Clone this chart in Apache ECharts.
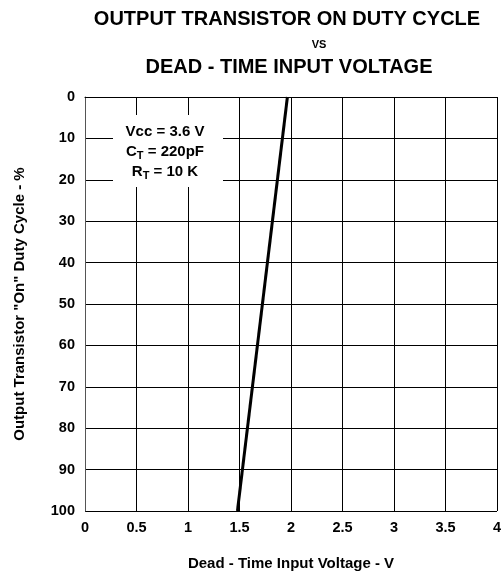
<!DOCTYPE html>
<html>
  <head>
    <meta charset="utf-8" />
    <title>Duty Cycle vs Dead-Time</title>
    <script src="https://cdn.jsdelivr.net/npm/echarts@6.0.0/dist/echarts.min.js"></script>
    <style>
      body { margin: 0; background: #fff; }
      #chart { width: 501px; height: 577px; }
    </style>
  </head>
<body>
  <div id="chart"></div>
  <script type="text/javascript">
// curve: dead-time voltage (V) vs duty cycle (%)
var voltage = [1.48, 1.965];
var dutyCycle = [100, 0];

var xTicks = [0, 0.5, 1, 1.5, 2, 2.5, 3, 3.5, 4];
var yTicks = [0, 10, 20, 30, 40, 50, 60, 70, 80, 90, 100];

var font = 'Liberation Sans, Arial, sans-serif';

var chart = echarts.init(document.getElementById('chart'));
var option = {
  animation: false,
  title: [
    { text: 'OUTPUT TRANSISTOR ON DUTY CYCLE', left: 282, textAlign: 'center', top: 4,
      textStyle: { fontFamily: font, fontWeight: 'bold', fontSize: 20, color: '#000' } },
    { text: 'VS', left: 314, textAlign: 'center', top: 34,
      textStyle: { fontFamily: font, fontWeight: 'bold', fontSize: 11, color: '#000' } },
    { text: 'DEAD - TIME INPUT VOLTAGE', left: 284, textAlign: 'center', top: 52,
      textStyle: { fontFamily: font, fontWeight: 'bold', fontSize: 20, color: '#000' } }
  ],
  grid: { left: 85, right: 4, top: 97, bottom: 66, outerBoundsMode: 'none' },
  xAxis: {
    type: 'value', min: 0, max: 4, interval: 0.5,
    name: 'Dead - Time Input Voltage - V', nameLocation: 'middle', nameGap: 45,
    nameTextStyle: { fontFamily: font, fontWeight: 'bold', fontSize: 15, color: '#000' },
    axisLine: { show: true, lineStyle: { color: '#000', width: 1 } },
    axisTick: { show: false },
    axisLabel: { fontFamily: font, fontWeight: 'bold', fontSize: 14.5, color: '#000', margin: 9,
      formatter: function (v) { return xTicks.indexOf(v) >= 0 ? String(v) : ''; } },
    splitLine: { show: true, lineStyle: { color: '#000', width: 1 } }
  },
  yAxis: {
    type: 'value', min: 0, max: 100, interval: 10, inverse: true,
    name: 'Output Transistor "On" Duty Cycle - %', nameLocation: 'middle', nameGap: 58,
    nameTextStyle: { fontFamily: font, fontWeight: 'bold', fontSize: 15, color: '#000' },
    axisLine: { show: true, lineStyle: { color: '#555', width: 1 } },
    axisTick: { show: false },
    axisLabel: { fontFamily: font, fontWeight: 'bold', fontSize: 14.5, color: '#000', margin: 10,
      formatter: function (v) { return yTicks.indexOf(v) >= 0 ? String(v) : ''; } },
    splitLine: { show: true, lineStyle: { color: '#000', width: 1 } }
  },
  graphic: [
    { type: 'rect', shape: { x: 113, y: 115, width: 110, height: 72 },
      style: { fill: '#fff' }, z: 100 },
    { type: 'text', x: 165, y: 122, z: 101,
      style: {
        text: '{n|Vcc = 3.6 V}\n{n|C}{s|T}{n| = 220pF}\n{n|R}{s|T}{n| = 10 K}',
        align: 'center',
        fontFamily: font, fontWeight: 'bold', fontSize: 15, fill: '#000',
        rich: {
          n: { fontFamily: font, fontWeight: 'bold', fontSize: 15, lineHeight: 20, verticalAlign: 'middle' },
          s: { fontFamily: font, fontWeight: 'bold', fontSize: 11, lineHeight: 20, padding: [8, 0, 0, 0] }
        }
      } }
  ],
  series: [
    {
      type: 'line',
      data: voltage.map(function (v, i) { return [v, dutyCycle[i]]; }),
      showSymbol: false,
      lineStyle: { color: '#000', width: 3 },
      z: 50
    }
  ]
};
chart.setOption(option);
  </script>
</body>
</html>
